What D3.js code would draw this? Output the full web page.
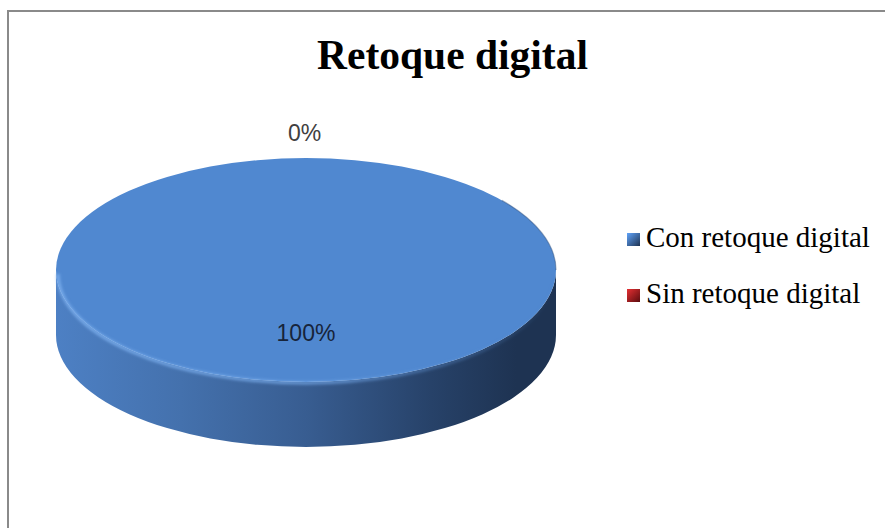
<!DOCTYPE html>
<html>
<head>
<meta charset="utf-8">
<script src="https://cdn.jsdelivr.net/npm/d3@7"></script>
<style>
  html, body { margin: 0; padding: 0; background: #ffffff; }
  svg { display: block; }
</style>
</head>
<body>
<svg id="chart" width="885" height="528"></svg>
<script>
// Chart data
const title = "Retoque digital";
const categories = ["Con retoque digital", "Sin retoque digital"];
const values = [100, 0];
const topColors = ["#5088d0", "#c0282b"];
const sideLight = ["#4d80c4", "#b82024"];
const sideDark = ["#1e3352", "#5a0c0e"];

const W = 885, H = 528;
const svg = d3.select("#chart");
const defs = svg.append("defs");

// Chart frame (extends past the right and bottom edges)
svg.append("rect")
  .attr("x", 8).attr("y", 11)
  .attr("width", 900).attr("height", 540)
  .attr("fill", "#ffffff")
  .attr("stroke", "#8a8a8a").attr("stroke-width", 2);

// Title
svg.append("text")
  .attr("x", 452.5).attr("y", 69)
  .attr("text-anchor", "middle")
  .attr("font-family", "'Liberation Serif', 'Times New Roman', serif")
  .attr("font-weight", "bold")
  .attr("font-size", 41.5)
  .attr("fill", "#000")
  .text(title);

// 3D pie geometry
const cx = 306, cy = 270, rx = 250, ry = 112, depth = 65;
const total = d3.sum(values);
const pct = d3.format(".0%");

const pie = d3.pie().sort(null).value(d => d)
  .startAngle(0).endAngle(2 * Math.PI);
const arcs = pie(values).map((a, i) => ({ ...a, i }));

// angle measured clockwise from 12 o'clock
const px = a => cx + rx * Math.sin(a);
const py = (a, dz = 0) => cy - ry * Math.cos(a) + dz;

function topPath(a0, a1) {
  if (a1 - a0 >= 2 * Math.PI - 1e-9) {
    return `M${cx - rx},${cy} A${rx},${ry} 0 1,1 ${cx + rx},${cy} A${rx},${ry} 0 1,1 ${cx - rx},${cy} Z`;
  }
  const large = (a1 - a0) > Math.PI ? 1 : 0;
  return `M${cx},${cy} L${px(a0)},${py(a0)} A${rx},${ry} 0 ${large},1 ${px(a1)},${py(a1)} Z`;
}

// Outer wall of the visible front half (angles between PI/2 and 3PI/2)
function wallPath(a0, a1) {
  const s = Math.max(a0, Math.PI / 2), e = Math.min(a1, 3 * Math.PI / 2);
  if (e <= s) return null;
  const large = (e - s) > Math.PI ? 1 : 0;
  return `M${px(s)},${py(s)} A${rx},${ry} 0 ${large},1 ${px(e)},${py(e)}` +
         ` L${px(e)},${py(e, depth)} A${rx},${ry} 0 ${large},0 ${px(s)},${py(s, depth)} Z`;
}

// Side shading gradients
arcs.forEach(d => {
  const g = defs.append("linearGradient")
    .attr("id", "side" + d.i)
    .attr("gradientUnits", "userSpaceOnUse")
    .attr("x1", cx - rx).attr("y1", 0).attr("x2", cx + rx).attr("y2", 0);
  const c = d3.interpolateRgb(sideLight[d.i], sideDark[d.i]);
  [[0, 0], [0.25, 0.2], [0.5, 0.45], [0.75, 0.8], [0.92, 1], [1, 1]].forEach(([o, t]) =>
    g.append("stop").attr("offset", o).attr("stop-color", c(t)));
});

// Rim highlight along the front edge of the top face
const rim = defs.append("linearGradient")
  .attr("id", "rim").attr("gradientUnits", "userSpaceOnUse")
  .attr("x1", cx - rx).attr("y1", 0).attr("x2", cx + rx).attr("y2", 0);
rim.append("stop").attr("offset", 0).attr("stop-color", "#7fb2f0").attr("stop-opacity", 0.9);
rim.append("stop").attr("offset", 0.5).attr("stop-color", "#78acec").attr("stop-opacity", 0.8);
rim.append("stop").attr("offset", 0.85).attr("stop-color", "#5f93d6").attr("stop-opacity", 0.3);
rim.append("stop").attr("offset", 1).attr("stop-color", "#5f93d6").attr("stop-opacity", 0);

const blurF = defs.append("filter").attr("id", "soft")
  .attr("x", "-10%").attr("y", "-10%").attr("width", "120%").attr("height", "120%");
blurF.append("feGaussianBlur").attr("stdDeviation", 1.4);

const pieG = svg.append("g");

// walls
arcs.filter(d => d.value > 0).forEach(d => {
  const p = wallPath(d.startAngle, d.endAngle);
  if (p) pieG.append("path").attr("d", p).attr("fill", `url(#side${d.i})`);
});

// top faces
arcs.filter(d => d.value > 0).forEach(d => {
  pieG.append("path")
    .attr("d", topPath(d.startAngle, d.endAngle))
    .attr("fill", topColors[d.i]);
});

// bevel highlight on front edge and a soft darker back-right edge
pieG.append("path")
  .attr("d", `M${cx - rx + 2},${cy + 4} A${rx - 2},${ry - 3} 0 0,0 ${cx + rx - 2},${cy + 4}`)
  .attr("fill", "none").attr("stroke", "url(#rim)").attr("stroke-width", 3)
  .attr("filter", "url(#soft)");
pieG.append("path")
  .attr("d", `M${px(0.9)},${py(0.9)} A${rx},${ry} 0 0,1 ${px(Math.PI / 2)},${py(Math.PI / 2)}`)
  .attr("fill", "none").attr("stroke", "#2c4b78").attr("stroke-width", 1.2)
  .attr("stroke-opacity", 0.45);

// data labels
const labelFont = "'Liberation Sans', Arial, sans-serif";
arcs.forEach(d => {
  const share = d.value / total;
  const mid = (d.startAngle + d.endAngle) / 2;
  let lx, ly, color;
  if (share === 0) {
    // empty slice: label outside the rim at its angle
    lx = px(mid) - 1.5;
    ly = cy - ry * 1.22 * Math.cos(mid);
    color = "#404040";
  } else {
    lx = cx + rx * 0.0 * Math.sin(mid);
    ly = cy - ry * 0.56 * Math.cos(mid);
    color = "#17243a";
  }
  svg.append("text")
    .attr("x", lx)
    .attr("y", ly)
    .attr("dy", "0.35em")
    .attr("text-anchor", "middle")
    .attr("font-family", labelFont)
    .attr("font-size", 23)
    .attr("fill", color)
    .text(pct(share));
});

// legend
const legG = svg.append("g");
arcs.forEach((d, k) => {
  const y = 247 + k * 56;
  const lg = defs.append("linearGradient").attr("id", "leg" + k)
    .attr("x1", 0).attr("y1", 0).attr("x2", 1).attr("y2", 1);
  lg.append("stop").attr("offset", 0).attr("stop-color", d3.color(topColors[k]).brighter(0.5));
  lg.append("stop").attr("offset", 1).attr("stop-color", sideDark[k]);
  legG.append("rect")
    .attr("x", 627).attr("y", y - 14).attr("width", 13).attr("height", 13)
    .attr("fill", `url(#leg${k})`);
  legG.append("text")
    .attr("x", 646).attr("y", y)
    .attr("font-family", "'Liberation Serif', 'Times New Roman', serif")
    .attr("font-size", 29)
    .attr("fill", "#000")
    .text(categories[k]);
});
</script>
</body>
</html>
